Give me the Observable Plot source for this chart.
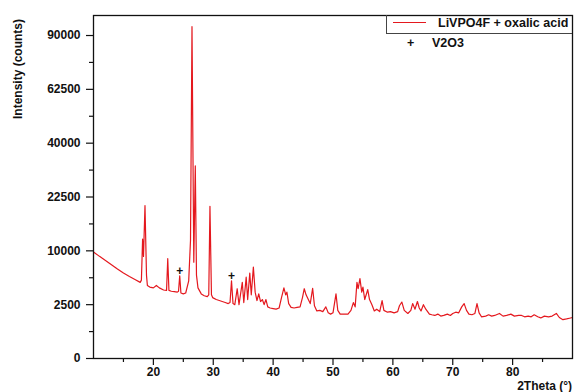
<!DOCTYPE html>
<html>
<head>
<meta charset="utf-8">
<script src="https://cdn.jsdelivr.net/npm/d3@7"></script>
<script src="https://cdn.jsdelivr.net/npm/@observablehq/plot@0.6"></script>
<style>
  html, body { margin: 0; padding: 0; background: #fff; }
  #chart { position: relative; width: 575px; height: 392px; overflow: hidden; font-family: "Liberation Sans", Arial, sans-serif; }
  #chart svg { display: block; }
  .legend-box { position: absolute; left: 386px; top: 15px; width: 185px; height: 18px; border-left: 1px solid #444; border-bottom: 1px solid #444; }
  .leg-line { position: absolute; left: 6px; top: 7px; width: 33px; height: 0; border-top: 1.2px solid #e4181e; }
  .leg-text { position: absolute; font-weight: bold; font-size: 12.5px; color: #111; white-space: nowrap; line-height: 16px; }
</style>
</head>
<body>
<div id="chart"></div>
<script>
// ---- data ----
const twoTheta = [10, 11, 12, 13, 14, 15, 16, 17, 17.8, 18.0, 18.2, 18.35, 18.6, 18.85, 19.0, 19.4, 20.0, 20.5, 21.0, 21.7, 22.2, 22.4, 22.6, 23.0, 23.5, 24.0, 24.2, 24.4, 24.6, 25.0, 25.4, 25.9, 26.2, 26.45, 26.75, 27.0, 27.2, 27.45, 28.0, 28.5, 29.0, 29.25, 29.45, 29.7, 29.9, 30.5, 31.0, 31.5, 32.0, 32.5, 32.8, 33.05, 33.3, 33.6, 34.0, 34.3, 34.85, 35.1, 35.5, 35.75, 36.1, 36.35, 36.7, 37.0, 37.3, 37.6, 37.9, 38.2, 38.5, 38.8, 39.1, 39.5, 40.0, 40.5, 41.0, 41.4, 41.8, 42.1, 42.3, 42.6, 43.0, 43.5, 44.0, 44.5, 44.9, 45.2, 45.5, 45.8, 46.2, 46.6, 46.9, 47.3, 47.8, 48.3, 48.8, 49.2, 49.6, 50.0, 50.5, 50.8, 51.2, 51.8, 52.5, 53.0, 53.4, 53.7, 54.0, 54.2, 54.5, 54.8, 55.0, 55.3, 55.8, 56.1, 56.5, 56.9, 57.3, 57.8, 58.2, 58.5, 59.1, 59.6, 60.2, 60.8, 61.1, 61.5, 61.9, 62.5, 63.0, 63.3, 63.7, 64.1, 64.4, 64.7, 65.1, 65.5, 66.1, 66.5, 67.0, 67.5, 68.0, 68.5, 69.1, 69.6, 70.0, 70.5, 71.0, 71.5, 71.9, 72.3, 72.7, 73.2, 73.7, 74.05, 74.4, 74.8, 75.5, 76.0, 76.5, 77.0, 77.8, 78.4, 79.0, 79.7, 80.3, 81.0, 81.5, 82.0, 82.6, 83.1, 83.6, 84.2, 84.7, 85.3, 86.0, 86.6, 87.3, 87.8, 88.4, 89.0, 89.5, 90];
const intensity = [9800, 9000, 8300, 7600, 6900, 6300, 5800, 5350, 5000, 5300, 12300, 9000, 20200, 6000, 4600, 4400, 4300, 4600, 4300, 4050, 4000, 8600, 4000, 3900, 3850, 3800, 3900, 5900, 3700, 3600, 3700, 5200, 12000, 95000, 8000, 32000, 6000, 4300, 3600, 3400, 3300, 3500, 20000, 3500, 3200, 3000, 2900, 2800, 2700, 2600, 2700, 5200, 2600, 2500, 4200, 2500, 5000, 2700, 5700, 3000, 6300, 3500, 7200, 3800, 2900, 3600, 2800, 3000, 2500, 3000, 2300, 2200, 2150, 2100, 2200, 3200, 4300, 3500, 3800, 2600, 2250, 2200, 2250, 2300, 3200, 4200, 3500, 3100, 2600, 4250, 2400, 1950, 2000, 1900, 2300, 1800, 1700, 1800, 3600, 2000, 1700, 1700, 1700, 2000, 2700, 2300, 5000, 4200, 5500, 3800, 4400, 3000, 4100, 3000, 2500, 1950, 2100, 1900, 2900, 2000, 1850, 1900, 1800, 1900, 2400, 2750, 2000, 1750, 2000, 2600, 2100, 2800, 2200, 1950, 2500, 2100, 1700, 1650, 1600, 1700, 1550, 1600, 1700, 1600, 1750, 1850, 1800, 2300, 2600, 2000, 1700, 1650, 1750, 2600, 1800, 1500, 1550, 1650, 1550, 1600, 1750, 1550, 1600, 1700, 1550, 1600, 1600, 1500, 1550, 1500, 1650, 1500, 1420, 1550, 1500, 1550, 1750, 1450, 1300, 1350, 1400, 1450];

const v2o3Theta = [24.4, 33.05];
const v2o3Mark = [6650, 5800];

const yTicks = [0, 2500, 10000, 22500, 40000, 62500, 90000];
const yMinor = [625, 5625, 15625, 30625, 50625, 75625];
const xTicks = [20, 30, 40, 50, 60, 70, 80];
const xMinor = [15, 25, 35, 45, 55, 65, 75, 85];

const seriesName = "LiVPO4F + oxalic acid";
const markerName = "V2O3";
const yLabel = "Intensity (counts)";
const xLabel = "2Theta (°)";

// ---- build ----
const pattern = twoTheta.map((t, i) => ({t, I: intensity[i]}));
const markers = v2o3Theta.map((t, i) => ({t, I: v2o3Mark[i]}));

const plot = Plot.plot({
  width: 575,
  height: 392,
  marginLeft: 93,
  marginRight: 3,
  marginTop: 15,
  marginBottom: 34,
  style: {fontFamily: "'Liberation Sans', Arial, sans-serif", fontSize: "12px", fontWeight: "bold", color: "#111", background: "#fff"},
  x: {domain: [10, 90]},
  y: {type: "sqrt", domain: [0, 101500]},
  marks: [
    Plot.line(pattern, {x: "t", y: "I", stroke: "#e4181e", strokeWidth: 1.2}),
    Plot.text(markers, {x: "t", y: "I", text: () => "+", fontSize: 12, fontWeight: "bold", fill: "#111"}),
    Plot.frame({stroke: "#111", strokeWidth: 1.3}),
    Plot.axisY({ticks: yTicks, tickSize: 7, tickPadding: 6, tickFormat: d => String(d), label: null, strokeWidth: 1.2}),
    Plot.axisY({ticks: yMinor, tickSize: 4, tickFormat: () => "", label: null, strokeWidth: 1.2}),
    Plot.axisX({ticks: xTicks, tickSize: 7, tickPadding: 2, tickFormat: d => String(d), label: null, strokeWidth: 1.2}),
    Plot.axisX({ticks: xMinor, tickSize: 4, tickFormat: () => "", label: null, strokeWidth: 1.2})
  ]
});

const chart = document.getElementById("chart");
chart.appendChild(plot);

// axis titles
const svg = d3.select(plot);
svg.append("text")
  .attr("transform", "translate(22,69) rotate(-90)")
  .attr("text-anchor", "middle")
  .attr("font-size", 12)
  .attr("font-weight", "bold")
  .attr("fill", "#111")
  .text(yLabel);
svg.append("text")
  .attr("x", 572)
  .attr("y", 390)
  .attr("text-anchor", "end")
  .attr("font-size", 12)
  .attr("font-weight", "bold")
  .attr("fill", "#111")
  .text(xLabel);

// legend
const box = document.createElement("div");
box.className = "legend-box";
box.innerHTML = `<div class="leg-line"></div><div class="leg-text" style="left:51px;top:0px">${seriesName}</div>`;
chart.appendChild(box);
const m1 = document.createElement("div");
m1.className = "leg-text";
m1.style.left = "407px"; m1.style.top = "35px";
m1.textContent = "+";
chart.appendChild(m1);
const m2 = document.createElement("div");
m2.className = "leg-text";
m2.style.left = "432px"; m2.style.top = "35px";
m2.textContent = markerName;
chart.appendChild(m2);
</script>
</body>
</html>
